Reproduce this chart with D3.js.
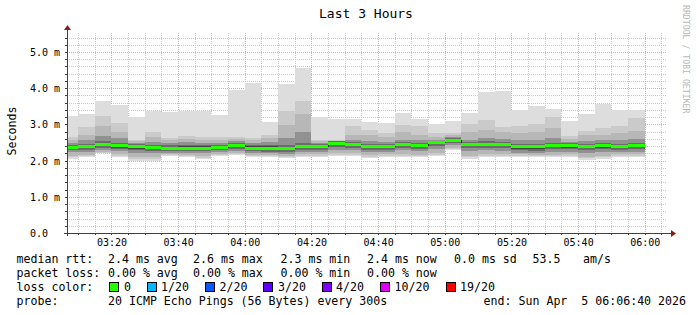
<!DOCTYPE html>
<html>
<head>
<meta charset="utf-8">
<script src="https://cdn.jsdelivr.net/npm/d3@7"></script>
<style>
  body { margin: 0; background: #fff; }
  svg text { font-family: "DejaVu Sans Mono", monospace; }
</style>
</head>
<body>
<svg width="697" height="315"></svg>
<script>
// end of each 5 minute bin (the first one is cut by the left edge)
const binEnds = ["03:10","03:15","03:20","03:25","03:30","03:35","03:40","03:45","03:50","03:55",
  "04:00","04:05","04:10","04:15","04:20","04:25","04:30","04:35","04:40","04:45",
  "04:50","04:55","05:00","05:05","05:10","05:15","05:20","05:25","05:30","05:35",
  "05:40","05:45","05:50","05:55","06:00"];

// rtt in ms, sorted pings per bin: min / max and a few of the inner pings
const maxRtt = [3.23,3.29,3.64,3.53,3.20,3.38,3.35,3.38,3.38,3.26,3.95,4.15,3.08,4.11,4.57,3.20,3.16,3.14,3.06,3.04,3.31,3.16,3.01,3.10,3.32,3.89,3.92,3.40,3.51,3.42,3.09,3.28,3.56,3.41,3.41];
const ping19 = [2.64,2.94,3.23,3.03,2.57,2.80,2.62,2.68,2.64,2.64,2.64,2.63,2.70,3.38,3.64,2.57,2.57,2.96,2.85,2.77,2.99,2.95,2.77,2.75,3.01,3.12,2.94,2.95,3.01,3.21,2.68,2.82,2.89,2.96,3.18];
const ping18 = [2.58,2.70,2.95,2.78,2.54,2.65,2.57,2.60,2.58,2.58,2.60,2.58,2.62,2.98,3.30,2.53,2.54,2.72,2.70,2.66,2.78,2.72,2.66,2.70,2.80,2.85,2.80,2.75,2.78,2.90,2.60,2.70,2.72,2.75,2.82];
const ping16 = [2.50,2.56,2.68,2.62,2.49,2.52,2.48,2.51,2.50,2.50,2.54,2.50,2.52,2.62,2.80,2.48,2.50,2.58,2.54,2.52,2.58,2.56,2.58,2.64,2.58,2.62,2.60,2.56,2.56,2.62,2.52,2.55,2.58,2.56,2.60];
const ping14 = [2.44,2.46,2.53,2.50,2.45,2.43,2.42,2.43,2.42,2.44,2.48,2.44,2.43,2.44,2.50,2.45,2.54,2.52,2.47,2.46,2.52,2.50,2.55,2.62,2.52,2.54,2.52,2.47,2.46,2.50,2.48,2.46,2.49,2.47,2.50];
const ping12 = [2.40,2.42,2.48,2.46,2.42,2.40,2.38,2.39,2.39,2.41,2.45,2.39,2.39,2.38,2.43,2.42,2.51,2.48,2.43,2.42,2.48,2.46,2.53,2.60,2.48,2.50,2.49,2.43,2.42,2.46,2.45,2.42,2.45,2.43,2.45];
const median = [2.37,2.39,2.45,2.42,2.39,2.37,2.35,2.36,2.36,2.38,2.42,2.36,2.36,2.35,2.40,2.40,2.49,2.46,2.40,2.39,2.45,2.43,2.51,2.58,2.45,2.47,2.46,2.40,2.39,2.43,2.42,2.39,2.42,2.40,2.42];
const ping9 = [2.32,2.34,2.39,2.36,2.33,2.31,2.30,2.30,2.31,2.33,2.37,2.31,2.30,2.29,2.34,2.35,2.43,2.41,2.35,2.34,2.39,2.38,2.46,2.53,2.40,2.41,2.40,2.33,2.32,2.37,2.36,2.34,2.36,2.35,2.37];
const ping7 = [2.28,2.30,2.34,2.31,2.28,2.26,2.26,2.26,2.26,2.29,2.32,2.27,2.25,2.24,2.29,2.30,2.37,2.36,2.30,2.30,2.34,2.33,2.40,2.48,2.35,2.35,2.34,2.28,2.27,2.32,2.31,2.29,2.31,2.30,2.32];
const ping5 = [2.23,2.24,2.29,2.26,2.21,2.20,2.21,2.21,2.20,2.24,2.27,2.22,2.20,2.19,2.23,2.24,2.30,2.29,2.24,2.24,2.28,2.27,2.32,2.42,2.27,2.28,2.27,2.22,2.21,2.25,2.25,2.21,2.23,2.24,2.25];
const ping3 = [2.14,2.16,2.25,2.18,2.09,2.09,2.18,2.16,2.12,2.18,2.20,2.16,2.16,2.14,2.17,2.17,2.20,2.20,2.15,2.17,2.18,2.16,2.20,2.35,2.14,2.18,2.18,2.17,2.15,2.16,2.18,2.10,2.13,2.17,2.18];
const ping2 = [2.09,2.12,2.22,2.14,2.04,2.04,2.15,2.13,2.08,2.15,2.17,2.13,2.13,2.11,2.14,2.14,2.16,2.16,2.11,2.14,2.14,2.12,2.16,2.31,2.09,2.14,2.14,2.14,2.12,2.12,2.14,2.06,2.09,2.14,2.14];
const minRtt = [2.05,2.09,2.20,2.11,2.00,2.00,2.13,2.11,2.05,2.13,2.15,2.11,2.11,2.08,2.11,2.11,2.13,2.13,2.07,2.11,2.11,2.09,2.13,2.28,2.05,2.11,2.11,2.11,2.09,2.09,2.11,2.02,2.05,2.11,2.11];

const yTicks = [0, 1, 2, 3, 4, 5];
const lossLevels = ["0", "1/20", "2/20", "3/20", "4/20", "10/20", "19/20"];
const lossColors = ["#26ff00", "#00b8ff", "#0059ff", "#5e00ff", "#7e00ff", "#dd00ff", "#ff0000"];

const svg = d3.select("svg");
const pLeft = 67, pRight = 667, pTop = 33, pBottom = 233;

const parse = d3.timeParse("%Y-%m-%d %H:%M");
const tStart = new Date(2026, 3, 5, 3, 6, 40);
const tEnd = new Date(2026, 3, 5, 6, 6, 40);

const x = d3.scaleTime().domain([tStart, tEnd]).range([pLeft, pRight]);
const y = d3.scaleLinear().domain([0, 5.525]).range([pBottom, pTop]);

// grid
const grid = svg.append("g").attr("shape-rendering", "crispEdges");
const minorT = d3.timeMinute.every(5).range(tStart, tEnd);
const majorT = d3.timeMinute.every(20).range(tStart, tEnd);
const minorV = d3.range(1, 28).map(i => i * 0.2).filter(v => Math.abs(v - Math.round(v)) > 0.01);

grid.selectAll(".vmin").data(minorT).join("line")
  .attr("x1", d => Math.round(x(d)) + 0.5).attr("x2", d => Math.round(x(d)) + 0.5)
  .attr("y1", pTop).attr("y2", pBottom)
  .attr("stroke", "#c8c8c8").attr("stroke-dasharray", "1,1");
grid.selectAll(".hmin").data(minorV).join("line")
  .attr("x1", pLeft).attr("x2", pRight)
  .attr("y1", d => Math.round(y(d)) + 0.5).attr("y2", d => Math.round(y(d)) + 0.5)
  .attr("stroke", "#c8c8c8").attr("stroke-dasharray", "1,1");
grid.selectAll(".vmaj").data(majorT).join("line")
  .attr("x1", d => Math.round(x(d)) + 0.5).attr("x2", d => Math.round(x(d)) + 0.5)
  .attr("y1", pTop).attr("y2", pBottom)
  .attr("stroke", "#e0a8a8").attr("stroke-dasharray", "1,1");
grid.selectAll(".hmaj").data(yTicks.slice(1)).join("line")
  .attr("x1", pLeft).attr("x2", pRight)
  .attr("y1", d => Math.round(y(d)) + 0.5).attr("y2", d => Math.round(y(d)) + 0.5)
  .attr("stroke", "#e0a8a8").attr("stroke-dasharray", "1,1");

// smoke: each band goes from ping i to ping (21-i), darker towards the middle
const bands = [
  { lo: minRtt, hi: maxRtt, c: "#dddddd" },
  { lo: ping2, hi: ping19, c: "#cacaca" },
  { lo: ping3, hi: ping18, c: "#b7b7b7" },
  { lo: ping5, hi: ping16, c: "#919191" },
  { lo: ping7, hi: ping14, c: "#6b6b6b" },
  { lo: ping9, hi: ping12, c: "#454545" }
];

const bins = binEnds.map((s, i) => {
  const t1 = parse("2026-04-05 " + s);
  const t0 = d3.max([d3.timeMinute.offset(t1, -5), tStart]);
  return { i, x0: Math.round(x(t0)), x1: Math.round(x(t1)) };
});

const smoke = svg.append("g").attr("shape-rendering", "crispEdges");
bands.forEach(b => {
  smoke.append("g").selectAll("rect").data(bins).join("rect")
    .attr("x", d => d.x0).attr("width", d => d.x1 - d.x0)
    .attr("y", d => Math.round(y(b.hi[d.i])))
    .attr("height", d => Math.max(1, Math.round(y(b.lo[d.i])) - Math.round(y(b.hi[d.i]))))
    .attr("fill", b.c);
});

// median: thin dark step line, then the loss coloured segments on top
const step = d3.line().curve(d3.curveStepAfter)
  .x(d => d[0]).y(d => d[1]);
const stepPts = [];
bins.forEach(d => { stepPts.push([d.x0, Math.round(y(median[d.i])) + 0.5]); });
stepPts.push([bins[bins.length - 1].x1, Math.round(y(median[bins.length - 1])) + 0.5]);
svg.append("path").attr("d", step(stepPts))
  .attr("fill", "none").attr("stroke", "#202020").attr("stroke-width", 1)
  .attr("shape-rendering", "crispEdges");
svg.append("g").selectAll("rect").data(bins).join("rect")
  .attr("x", d => d.x0).attr("width", d => d.x1 - d.x0)
  .attr("y", d => Math.round(y(median[d.i])) - 1).attr("height", 3)
  .attr("fill", lossColors[0]).attr("shape-rendering", "crispEdges");

// axes
const axis = svg.append("g").attr("shape-rendering", "crispEdges").attr("stroke", "#404040");
axis.append("line").attr("x1", pLeft - 3).attr("x2", pRight + 5).attr("y1", pBottom + 0.5).attr("y2", pBottom + 0.5);
axis.append("line").attr("x1", pLeft + 0.5).attr("x2", pLeft + 0.5).attr("y1", pBottom + 3).attr("y2", pTop - 4);
axis.selectAll(".tx").data(minorT).join("line")
  .attr("x1", d => Math.round(x(d)) + 0.5).attr("x2", d => Math.round(x(d)) + 0.5)
  .attr("y1", pBottom).attr("y2", pBottom + 2);
axis.selectAll(".ty").data(minorV.concat(yTicks)).join("line")
  .attr("x1", pLeft - 2).attr("x2", pLeft)
  .attr("y1", d => Math.round(y(d)) + 0.5).attr("y2", d => Math.round(y(d)) + 0.5);
svg.append("path").attr("d", `M${pRight + 4},${pBottom - 3}L${pRight + 9},${pBottom + 0.5}L${pRight + 4},${pBottom + 4}Z`)
  .attr("fill", "#8b1c1c");
svg.append("path").attr("d", `M${pLeft - 3},${pTop - 3}L${pLeft + 0.5},${pTop - 8}L${pLeft + 4},${pTop - 3}Z`)
  .attr("fill", "#8b1c1c");

// tick labels
svg.append("g").selectAll("text").data(yTicks).join("text")
  .attr("x", 30).attr("y", d => y(d) + 4)
  .attr("font-size", 10).attr("fill", "#000")
  .text(d => d === 0 ? "0.0" : d.toFixed(1) + " m");
svg.append("g").selectAll("text").data(majorT).join("text")
  .attr("x", d => x(d) + 0.5).attr("y", 246)
  .attr("text-anchor", "middle").attr("font-size", 10).attr("fill", "#000")
  .text(d3.timeFormat("%H:%M"));

// titles
svg.append("text").attr("x", 366).attr("y", 18).attr("text-anchor", "middle")
  .attr("font-size", 13).text("Last 3 Hours");
svg.append("text").attr("transform", "translate(15.5,131) rotate(-90)")
  .attr("text-anchor", "middle").attr("font-size", 11.6).text("Seconds");
svg.append("text").attr("transform", "translate(683,5) rotate(90)")
  .attr("font-size", 8.2).attr("fill", "#b8b8b8").text("RRDTOOL / TOBI OETIKER");

// legend
const legend = svg.append("g").attr("font-size", 11.6).attr("fill", "#000");
const leg = (tx, lx, ly) => legend.append("text").attr("x", lx).attr("y", ly).text(tx);
leg("median rtt:", 16.5, 263);
leg("2.4 ms avg", 108, 263); leg("2.6 ms max", 193, 263); leg("2.3 ms min", 280.5, 263);
leg("2.4 ms now", 367, 263); leg("0.0 ms sd", 454, 263); leg("53.5", 532.5, 263); leg("am/s", 583, 263);
leg("packet loss:", 16.5, 277);
leg("0.00 % avg", 108, 277); leg("0.00 % max", 193, 277); leg("0.00 % min", 280.5, 277); leg("0.00 % now", 367, 277);
leg("loss color:", 16.5, 291);
const boxX = [109, 147, 205, 263, 322, 380, 446];
const txtX = [124, 161, 219.5, 278, 336, 394.5, 460];
lossLevels.forEach((l, i) => {
  svg.append("rect").attr("x", boxX[i] + 0.5).attr("y", 282.5).attr("width", 9).attr("height", 9)
    .attr("fill", lossColors[i]).attr("stroke", "#000").attr("shape-rendering", "crispEdges");
  leg(l, txtX[i], 291);
});
leg("probe:", 16.5, 305);
leg("20 ICMP Echo Pings (56 Bytes) every 300s", 108, 305);
legend.append("text").attr("x", 686).attr("y", 305).attr("text-anchor", "end")
  .attr("xml:space", "preserve").style("white-space", "pre")
  .text("end: Sun Apr  5 06:06:40 2026");
</script>
</body>
</html>
